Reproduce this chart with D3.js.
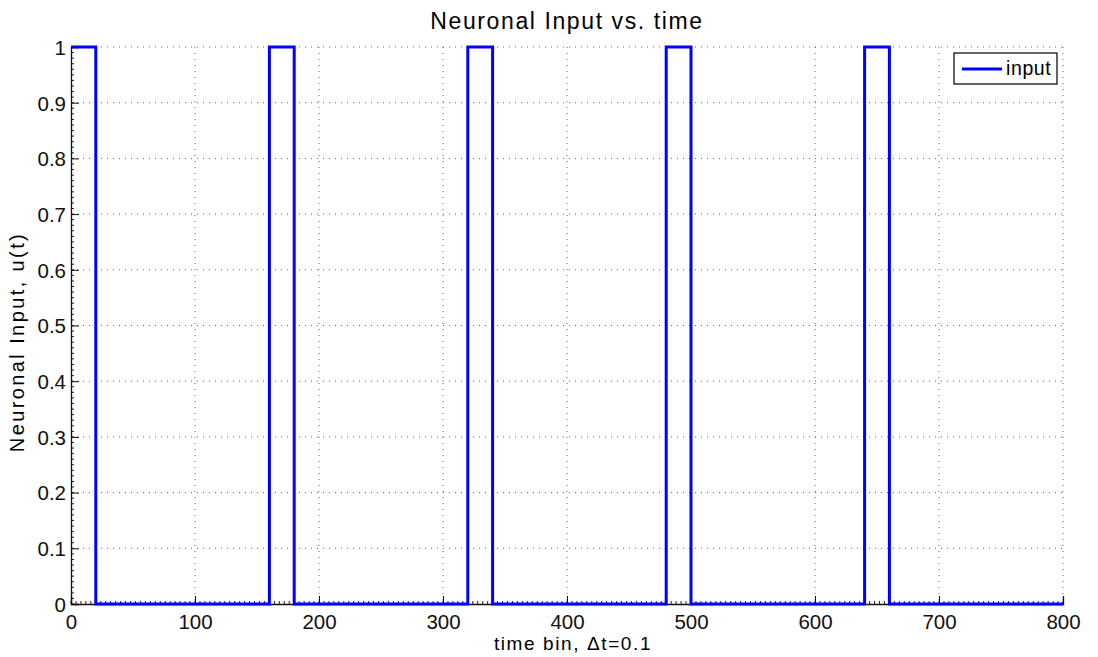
<!DOCTYPE html>
<html>
<head>
<meta charset="utf-8">
<script src="https://cdn.jsdelivr.net/npm/d3@7"></script>
<style>
  body { margin: 0; background: #fff; }
  svg { font-family: "Liberation Sans", Arial, Helvetica, sans-serif; }
</style>
</head>
<body>
<div id="chart"></div>
<script>
// DATA ------------------------------------------------------------
// step points of the input signal (time bin, value)
var timeBins = [0, 20, 20, 160, 160, 180, 180, 320, 320, 340, 340, 480, 480, 500, 500, 640, 640, 660, 660, 800];
var inputVals = [1, 1, 0, 0, 1, 1, 0, 0, 1, 1, 0, 0, 1, 1, 0, 0, 1, 1, 0, 0];
var xTicks = [0, 100, 200, 300, 400, 500, 600, 700, 800];
var yTicks = [0, 0.1, 0.2, 0.3, 0.4, 0.5, 0.6, 0.7, 0.8, 0.9, 1];
var seriesName = "input";

// SVG SIZE ------------------------------------------------------------
var W = 1098, H = 657;
var margin = {top: 47, right: 35, bottom: 53, left: 71},
    width = W - margin.left - margin.right,
    height = H - margin.top - margin.bottom;

var svg = d3.select("#chart")
	.append("svg")
	.attr("width", W)
	.attr("height", H);

var g = svg.append("g")
	.attr("transform", "translate(" + margin.left + "," + margin.top + ")");

var x = d3.scaleLinear().domain([0, 800]).range([0, width]);
var y = d3.scaleLinear().domain([0, 1]).range([height, 0]);

// grid (dotted)
var gridColor = "#666";
g.selectAll("line.vgrid")
	.data(xTicks.slice(1))
	.enter().append("line")
	.attr("class", "vgrid")
	.attr("x1", function(d) { return x(d); })
	.attr("x2", function(d) { return x(d); })
	.attr("y1", 0).attr("y2", height)
	.attr("stroke", gridColor)
	.attr("stroke-width", 1)
	.attr("stroke-dasharray", "1,5");

g.selectAll("line.hgrid")
	.data(yTicks.slice(1))
	.enter().append("line")
	.attr("class", "hgrid")
	.attr("x1", 0).attr("x2", width)
	.attr("y1", function(d) { return y(d); })
	.attr("y2", function(d) { return y(d); })
	.attr("stroke", gridColor)
	.attr("stroke-width", 1)
	.attr("stroke-dasharray", "1,5");

// axes, MATLAB style ticks pointing inward
var xAxis = d3.axisBottom(x).tickValues(xTicks).tickSize(-8).tickPadding(10)
	.tickFormat(d3.format("d"));
var yAxis = d3.axisLeft(y).tickValues(yTicks).tickSize(-8).tickPadding(5)
	.tickFormat(function(d) { return d === 0 || d === 1 ? d : d3.format(".1f")(d); });

// minor ticks
var xMinor = d3.range(0, 801, 4);
var yMinor = d3.range(0, 101, 1).map(function(d) { return d / 100; });

g.selectAll("line.xminor")
	.data(xMinor)
	.enter().append("line")
	.attr("x1", function(d) { return x(d); })
	.attr("x2", function(d) { return x(d); })
	.attr("y1", height).attr("y2", height - 3)
	.attr("stroke", "#222");

g.selectAll("line.yminor")
	.data(yMinor)
	.enter().append("line")
	.attr("x1", 0).attr("x2", 3)
	.attr("y1", function(d) { return y(d); })
	.attr("y2", function(d) { return y(d); })
	.attr("stroke", "#222");

var gx = g.append("g")
	.attr("transform", "translate(0," + height + ")")
	.call(xAxis);
var gy = g.append("g").call(yAxis);

[gx, gy].forEach(function(a) {
	a.selectAll("text").style("font-size", "20.5px").attr("fill", "#111");
	a.selectAll("line").attr("stroke", "#111");
	a.select(".domain").attr("stroke", "#111").attr("stroke-width", 1.3);
});
gy.selectAll("text").attr("dy", "0.36em");

// the signal
var line = d3.line()
	.x(function(d, i) { return x(timeBins[i]); })
	.y(function(d) { return y(d); });

g.append("path")
	.datum(inputVals)
	.attr("d", line)
	.attr("fill", "none")
	.attr("stroke", "#0000ff")
	.attr("stroke-width", 3)
	.attr("stroke-linejoin", "miter");

// title and labels
svg.append("text")
	.attr("x", margin.left + width / 2)
	.attr("y", 29)
	.attr("text-anchor", "middle")
	.style("font-size", "23px")
	.style("letter-spacing", "1.6px")
	.text("Neuronal Input vs. time");

svg.append("text")
	.attr("x", 573)
	.attr("y", 650)
	.attr("text-anchor", "middle")
	.style("font-size", "19px")
	.style("letter-spacing", "1.6px")
	.text("time bin, \u0394t=0.1");

svg.append("text")
	.attr("transform", "translate(24,342) rotate(-90)")
	.attr("text-anchor", "middle")
	.style("font-size", "20px")
	.style("letter-spacing", "2.4px")
	.text("Neuronal Input, u(t)");

// legend
var leg = g.append("g").attr("transform", "translate(" + (width - 109) + ",6)");
leg.append("rect")
	.attr("width", 103).attr("height", 31)
	.attr("fill", "#fff")
	.attr("stroke", "#111")
	.attr("stroke-width", 1.3);
leg.append("line")
	.attr("x1", 8).attr("x2", 48)
	.attr("y1", 16).attr("y2", 16)
	.attr("stroke", "#0000ff")
	.attr("stroke-width", 3);
leg.append("text")
	.attr("x", 52).attr("y", 22)
	.style("font-size", "19.5px")
	.style("letter-spacing", "0.6px")
	.text(seriesName);
</script>
</body>
</html>
